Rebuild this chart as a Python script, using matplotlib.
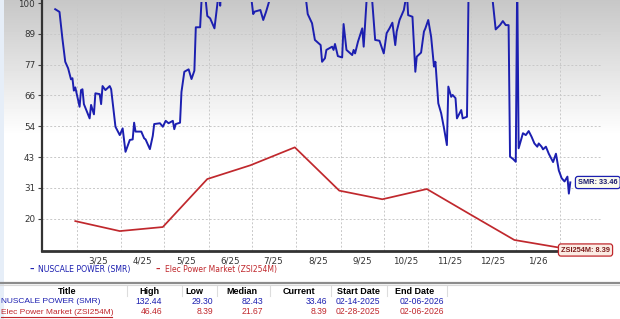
import numpy as np
import pandas as pd
import matplotlib
matplotlib.use("Agg")
import matplotlib.pyplot as plt
import matplotlib.dates as mdates
from matplotlib.lines import Line2D

# ---------------- data ----------------
base_date = "2025-03-01"
smr_days = [-15, -12, -10, -8, -6, -4, -3, -2, -1, 2, 3, 4, 5, 9, 10, 12, 13, 16, 17, 18,
            20, 23, 24, 27, 30, 32, 34, 37, 39, 40, 41, 45, 47, 48, 51, 53, 54, 58, 60, 62,
            64, 67, 68, 69, 72, 73, 75, 78, 80, 82, 83, 86, 87, 88, 89, 90, 91, 93, 96, 98,
            99, 100, 101, 103, 106, 109, 112, 115, 118, 121, 122, 123, 124, 128, 130, 132, 134, 136, 139, 142,
            145, 148, 151, 154, 157, 160, 161, 164, 166, 170, 171, 173, 174, 178, 179, 180, 182, 185, 186, 188,
            192, 193, 194, 196, 199, 200, 202, 203, 205, 206, 208, 211, 214, 216, 218, 220, 222, 223, 225, 228,
            229, 230, 231, 234, 236, 237, 240, 242, 243, 245, 247, 249, 250, 252, 254, 256, 258, 259, 261, 262,
            264, 265, 268, 269, 272, 273, 275, 278, 281, 284, 287, 290, 292, 295, 297, 299, 301, 302, 304, 306,
            307, 308, 311, 313, 315, 317, 319, 321, 322, 324, 325, 327, 329, 332, 334, 336, 338, 340, 342, 343,
            344]
smr_vals = [97.7, 96.7, 86.9, 78.2, 75.8, 71.7, 72.1, 67.5, 68.7, 61.5, 67.7, 68.0, 62.5, 57.2, 62.2, 58.7, 66.5, 66.2, 62.5, 69.2,
            67.7, 69.2, 68.0, 54.1, 51.0, 53.5, 44.8, 49.2, 49.4, 55.6, 52.3, 52.3, 49.8, 49.4, 45.8, 50.7, 55.1, 55.4, 54.1, 56.3,
            55.4, 56.3, 53.2, 55.1, 55.6, 67.0, 74.5, 75.4, 71.8, 74.9, 91.0, 91.0, 101.0, 112.0, 108.0, 100.5, 95.2, 94.3, 90.6, 99.5,
            105.0, 99.0, 108.0, 115.0, 120.0, 118.0, 125.0, 122.0, 118.0, 110.0, 100.4, 95.9, 96.8, 97.4, 93.7, 96.8, 100.4, 110.0, 120.0, 128.0,
            132.44, 125.0, 118.0, 122.0, 112.0, 100.4, 95.9, 92.5, 86.3, 84.4, 78.2, 79.5, 82.6, 83.8, 82.6, 84.8, 80.3, 79.8, 92.2, 82.6,
            80.7, 82.6, 81.3, 85.6, 90.6, 83.8, 100.4, 115.0, 105.0, 100.4, 86.3, 86.0, 81.3, 88.8, 90.6, 92.7, 84.4, 89.4, 93.7, 97.4,
            100.5, 105.0, 95.5, 94.9, 74.5, 80.1, 81.6, 89.4, 90.6, 93.7, 87.5, 76.4, 78.2, 62.8, 59.1, 53.5, 47.3, 69.0, 65.2, 65.9,
            64.7, 57.2, 60.3, 57.2, 57.8, 100.4, 112.0, 120.0, 118.0, 126.0, 115.0, 100.4, 90.2, 91.8, 93.3, 91.8, 91.8, 43.0, 42.2, 41.1,
            110.0, 46.1, 51.7, 51.0, 52.5, 50.4, 47.9, 46.7, 47.9, 46.7, 45.7, 46.7, 44.1, 41.0, 44.1, 37.9, 35.0, 33.8, 35.6, 29.3,
            33.46]

zsi_dates = ["2025-02-28", "2025-03-31", "2025-04-30", "2025-05-31", "2025-06-30", "2025-07-31",
             "2025-08-31", "2025-09-30", "2025-10-31", "2025-11-30", "2025-12-31", "2026-01-31", "2026-02-06"]
zsi_vals = [19.1, 15.4, 16.9, 34.7, 39.8, 46.46, 30.4, 27.2, 31.0, 21.67, 12.1, 9.3, 8.39]

month_starts = ["2025-03-01", "2025-04-01", "2025-05-01", "2025-06-01", "2025-07-01", "2025-08-01",
                "2025-09-01", "2025-10-01", "2025-11-01", "2025-12-01", "2026-01-01", "2026-02-01"]
month_labels = ["3/25", "4/25", "5/25", "6/25", "7/25", "8/25", "9/25", "10/25", "11/25", "12/25", "1/26"]
y_ticks = [20, 31.43, 42.86, 54.29, 65.71, 77.14, 88.57, 100]
y_labels = ["20", "31", "43", "54", "66", "77", "89", "100"]

smr_name = "NUSCALE POWER (SMR)"
zsi_name = "Elec Power Market (ZSI254M)"
smr_tag = "SMR: 33.46"
zsi_tag = "ZSI254M: 8.39"
table_header = ["Title", "High", "Low", "Median", "Current", "Start Date", "End Date"]
smr_row = ["132.44", "29.30", "82.43", "33.46", "02-14-2025", "02-06-2026"]
zsi_row = ["46.46", "8.39", "21.67", "8.39", "02-28-2025", "02-06-2026"]

BLUE = "#1c1fb0"
RED = "#c0282d"
W, H = 620, 319

# ---------------- figure ----------------
fig = plt.figure(figsize=(6.2, 3.19), dpi=100)
fig.patch.set_facecolor("white")

# background gradient
bg = fig.add_axes([0, 0, 1, 1], zorder=-10)
bg.set_axis_off()
ys = np.arange(H)
shade = np.clip(0.78 + 0.22 * ys / 135.0, 0, 1.0)
img = np.repeat(shade[:, None], 2, axis=1)
bg.imshow(img, cmap="gray", vmin=0, vmax=1, aspect="auto", extent=[0, 1, 0, 1])
bg.set_xlim(0, 1); bg.set_ylim(0, 1)
bg.add_patch(plt.Rectangle((0, 0), 4 / W, 1, color="#e6eef8", transform=bg.transAxes, lw=0))


def fx(px):
    return px / W


def fy(py):
    return 1 - py / H


ax_l, ax_r, ax_t, ax_b = 42, 602, 1.5, 250.7
ax = fig.add_axes([fx(ax_l), fy(ax_b), fx(ax_r - ax_l), (ax_b - ax_t) / H])
ax.set_facecolor("none")

base = pd.Timestamp(base_date)
smr_x = base + pd.to_timedelta(smr_days, unit="D")
zsi_x = pd.to_datetime(zsi_dates)
ms = pd.to_datetime(month_starts)

ax.plot(smr_x, smr_vals, color=BLUE, lw=1.4, zorder=3, solid_joinstyle="round")
ax.plot(zsi_x, zsi_vals, color=RED, lw=1.25, zorder=3)

x0 = mdates.date2num(base) - 24.2
x1 = mdates.date2num(base) + 366.1
ax.set_xlim(x0, x1)
ax.set_ylim(8.12, 100.56)

ax.set_xticks(mdates.date2num(ms))
ax.set_xticklabels([])
mid = [mdates.date2num(m) + 15 for m in ms[:-1]]
ax.set_xticks(mid, minor=True)
ax.set_xticklabels(month_labels, minor=True, fontsize=6.3, color="#333333")
ax.tick_params(axis="x", which="both", length=0, pad=4)

ax.set_yticks(y_ticks)
ax.set_yticklabels(y_labels, fontsize=6.3, color="#333333")
ax.tick_params(axis="y", length=3, width=0.8, color="#444444", pad=2)

ax.grid(True, which="major", color="#c8c8c8", lw=0.7, ls=(0, (2, 2)))
for s in ["top", "right"]:
    ax.spines[s].set_visible(False)
ax.spines["left"].set_color("#333333"); ax.spines["left"].set_linewidth(1.6)
ax.spines["bottom"].set_color("#333333"); ax.spines["bottom"].set_linewidth(2.0)

# end tags
tagfont = dict(family="Liberation Sans", fontsize=5.3, fontweight="bold")
fig.text(fx(578), fy(182.5), smr_tag, color="#1a1a6e", va="center", ha="left",
         bbox=dict(boxstyle="round,pad=0.35", fc="#fbfbee", ec=BLUE, lw=0.9), **tagfont)
fig.text(fx(561), fy(250), zsi_tag, color="#7a1a1a", va="center", ha="left",
         bbox=dict(boxstyle="round,pad=0.35", fc="#fbece4", ec=RED, lw=0.9), **tagfont)

# legend
fig.text(fx(30), fy(269.5), "–", color=BLUE, fontsize=6.5, va="center", ha="left", fontweight="bold")
fig.text(fx(38), fy(269.5), smr_name, color=BLUE, fontsize=5.6, va="center", ha="left")
fig.text(fx(156), fy(269.5), "–", color=RED, fontsize=6.5, va="center", ha="left", fontweight="bold")
fig.text(fx(165), fy(269.5), zsi_name, color=RED, fontsize=5.5, va="center", ha="left")

# separator
fig.add_artist(Line2D([0, 1], [fy(282.5), fy(282.5)], color="#8c8c8c", lw=1.6))
fig.add_artist(Line2D([0, 1], [fy(284.5), fy(284.5)], color="#d8d8d8", lw=0.8))

# table
tfont = "Liberation Sans"
hdr_x = [67, 149, 194, 242, 299, 358, 415]
for t, x in zip(table_header, hdr_x):
    fig.text(fx(x), fy(291), t, fontsize=6.5, fontweight="bold", ha="center", va="center",
             color="black", family=tfont)
for sx in [127, 182, 217, 270, 331, 387, 447]:
    fig.add_artist(Line2D([fx(sx), fx(sx)], [fy(286), fy(296)], color="#dddddd", lw=0.8))

num_right = [162, 213, 263, 327]
date_center = [358, 422]
for row, name, col, yy in [(smr_row, smr_name, BLUE, 301.3), (zsi_row, zsi_name, RED, 312.0)]:
    fig.text(fx(1), fy(yy), name, fontsize=6.0, color=col, ha="left", va="center", family=tfont)
    for v, x in zip(row[:4], num_right):
        fig.text(fx(x), fy(yy), v, fontsize=6.2, color=col, ha="right", va="center", family=tfont)
    for v, x in zip(row[4:], date_center):
        fig.text(fx(x), fy(yy), v, fontsize=6.2, color=col, ha="center", va="center", family=tfont)

# underline for second title (link style)
fig.add_artist(Line2D([fx(1), fx(112)], [fy(316.5), fy(316.5)], color=RED, lw=0.8))

fig.savefig("out.png", dpi=100)
